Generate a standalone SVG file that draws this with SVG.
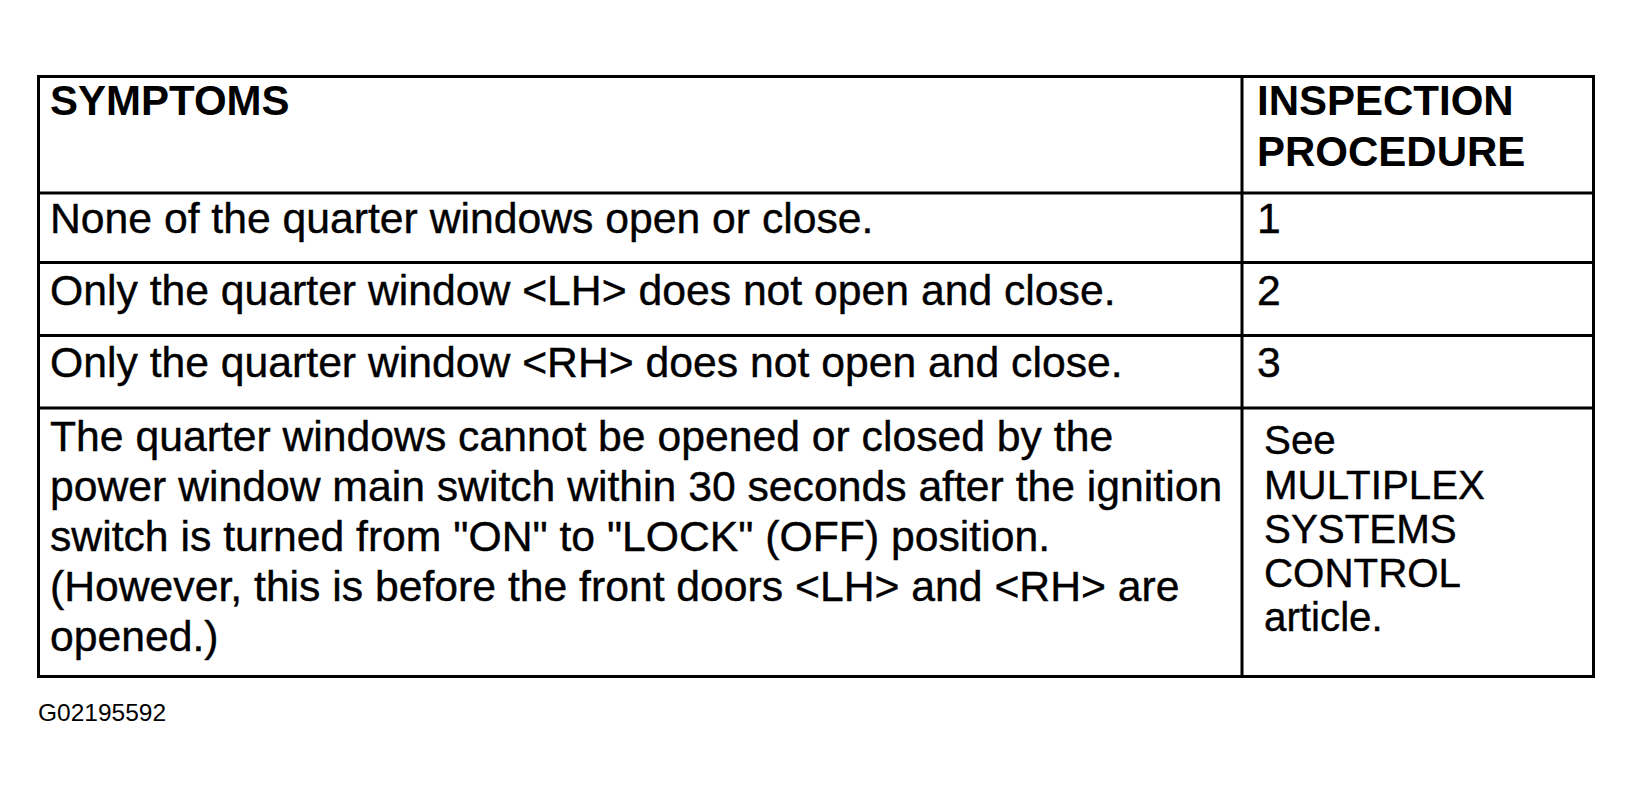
<svg xmlns="http://www.w3.org/2000/svg" width="1633" height="798" viewBox="0 0 1633 798">
<style>
.t{font-family:"Liberation Sans",Arial,sans-serif;font-size:42.7px;fill:#000;stroke:#000;stroke-width:0.4}
.h{font-family:"Liberation Sans",Arial,sans-serif;font-size:42px;font-weight:bold;fill:#000}
.r{font-family:"Liberation Sans",Arial,sans-serif;font-size:40.3px;fill:#000;stroke:#000;stroke-width:0.4}
.id{font-family:"Liberation Sans",Arial,sans-serif;font-size:24.5px;fill:#000}
.ln{stroke:#000;stroke-width:3;fill:none}
</style>
<rect width="1633" height="798" fill="#fff"/>
<g id="grid">
<rect class="ln" x="38.5" y="76.5" width="1555" height="600"/>
<line class="ln" x1="1242" y1="76" x2="1242" y2="677"/>
<line class="ln" x1="38" y1="193" x2="1594" y2="193"/>
<line class="ln" x1="38" y1="262.5" x2="1594" y2="262.5"/>
<line class="ln" x1="38" y1="335.5" x2="1594" y2="335.5"/>
<line class="ln" x1="38" y1="408" x2="1594" y2="408"/>
</g>
<g id="header">
<text class="h" x="50" y="115">SYMPTOMS</text>
<text class="h" x="1257" y="115">INSPECTION</text>
<text class="h" x="1257" y="166">PROCEDURE</text>
</g>
<g id="row1">
<text class="t" x="50" y="233">None of the quarter windows open or close.</text>
<text class="t" x="1257" y="233">1</text>
</g>
<g id="row2">
<text class="t" x="50" y="305">Only the quarter window &lt;LH&gt; does not open and close.</text>
<text class="t" x="1257" y="305">2</text>
</g>
<g id="row3">
<text class="t" x="50" y="377">Only the quarter window &lt;RH&gt; does not open and close.</text>
<text class="t" x="1257" y="377">3</text>
</g>
<g id="row4">
<text class="t" x="50" y="451">The quarter windows cannot be opened or closed by the</text>
<text class="t" x="50" y="501">power window main switch within 30 seconds after the ignition</text>
<text class="t" x="50" y="551">switch is turned from "ON" to "LOCK" (OFF) position.</text>
<text class="t" x="50" y="601">(However, this is before the front doors &lt;LH&gt; and &lt;RH&gt; are</text>
<text class="t" x="50" y="651">opened.)</text>
<text class="r" x="1264" y="454">See</text>
<text class="r" x="1264" y="499">MULTIPLEX</text>
<text class="r" x="1264" y="543">SYSTEMS</text>
<text class="r" x="1264" y="587">CONTROL</text>
<text class="r" x="1264" y="631">article.</text>
</g>
<text class="id" x="38" y="721">G02195592</text>
</svg>
